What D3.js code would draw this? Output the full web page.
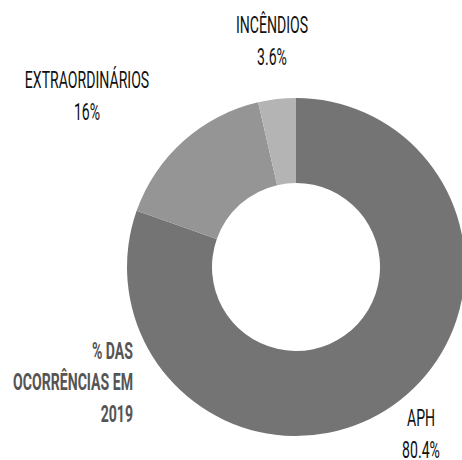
<!DOCTYPE html>
<html>
	<head>
		<meta charset="utf-8">
		<title>Ocorrências 2019</title>
		<style type="text/css">
			body { margin: 0; background: #fff; }
			text {
			font-family: Roboto, "Liberation Sans", sans-serif;
			font-size: 23.5px;
			font-weight: 400;
			}
			.lbl { fill: #111; }
			.note { fill: #555; font-weight: 700; }
		</style>
		<script src="https://d3js.org/d3.v7.min.js"></script>
	</head>
	<body>
		<div id="chart"></div>
		<script>
			// data
			var categories = ["APH", "EXTRAORDINÁRIOS", "INCÊNDIOS"];
			var values = [80.4, 16, 3.6];
			var valueLabels = ["80.4%", "16%", "3.6%"];
			var colors = ["#747474", "#959595", "#b4b4b4"];
			var noteLines = ["% DAS", "OCORRÊNCIAS EM", "2019"];

			// dimensions
			var width = 462, height = 460;
			var cx = 296, cy = 267;
			var outerR = 169, innerR = 84;
			var squeeze = 0.6;

			// label anchors (first baseline), per category
			var labelAt = {
				"APH": [421, 426],
				"EXTRAORDINÁRIOS": [87, 88],
				"INCÊNDIOS": [272, 33]
			};

			var data = categories.map(function(c, i) {
				return { name: c, value: values[i], label: valueLabels[i], color: colors[i] };
			});

			var svg = d3.select("#chart").append("svg")
			.attr("width", width)
			.attr("height", height);

			var pie = d3.pie()
			.sort(null)
			.value(function(d) { return d.value; });

			var arc = d3.arc()
			.innerRadius(innerR)
			.outerRadius(outerR);

			var g = svg.append("g")
			.attr("transform", "translate(" + cx + "," + cy + ")");

			g.selectAll("path")
			.data(pie(data))
			.enter().append("path")
			.attr("d", arc)
			.attr("fill", function(d) { return d.data.color; });

			// category labels
			var lab = svg.selectAll(".lab")
			.data(data)
			.enter().append("g")
			.attr("class", "lab")
			.attr("transform", function(d) {
				var p = labelAt[d.name];
				return "translate(" + p[0] + "," + p[1] + ") scale(" + squeeze + ",1)";
			});

			lab.append("text")
			.attr("class", "lbl")
			.attr("text-anchor", "middle")
			.text(function(d) { return d.name; });

			lab.append("text")
			.attr("class", "lbl")
			.attr("text-anchor", "middle")
			.attr("y", 32)
			.text(function(d) { return d.label; });

			// note
			var note = svg.append("g")
			.attr("transform", "translate(133,359) scale(" + squeeze + ",1)");

			note.selectAll("text")
			.data(noteLines)
			.enter().append("text")
			.attr("class", "note")
			.attr("text-anchor", "end")
			.attr("y", function(d, i) { return i * 31.5; })
			.text(function(d) { return d; });
		</script>
	</body>
</html>
